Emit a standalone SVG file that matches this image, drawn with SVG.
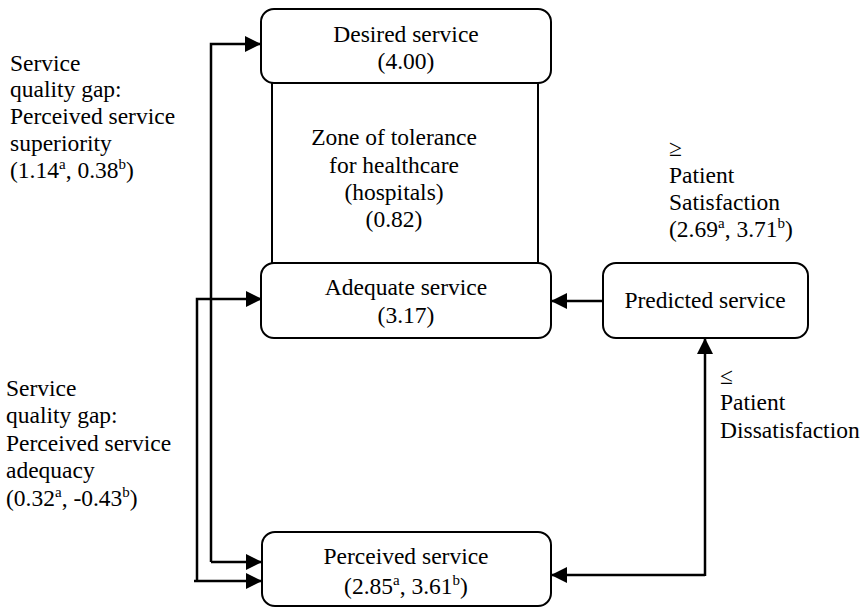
<svg xmlns="http://www.w3.org/2000/svg" width="866" height="607" viewBox="0 0 866 607">
<defs>
<style>
text{font-family:"Liberation Serif","Times New Roman",serif;font-size:23.5px;fill:#000}
.c{text-anchor:middle}
.box{fill:#fff;stroke:#000;stroke-width:2}
.ln{fill:none;stroke:#000;stroke-width:2.5}
.sup{font-size:15px}
</style>
<marker id="ah" markerWidth="16" markerHeight="16" viewBox="0 0 16 16" refX="15" refY="8" orient="auto" markerUnits="userSpaceOnUse">
<path d="M0,0 L16,8 L0,16 Z" fill="#000"/>
</marker>
</defs>
<g id="zone">
<rect x="272" y="80" width="266" height="186" fill="#fff" stroke="#000" stroke-width="2"/>
<text class="c" x="394" y="145">Zone of tolerance</text>
<text class="c" x="394" y="173">for healthcare</text>
<text class="c" x="394" y="200">(hospitals)</text>
<text class="c" x="394" y="227">(0.82)</text>
</g>
<g id="connectors">
<path class="ln" d="M211,562 L211,44 L260,44" marker-end="url(#ah)"/>
<path class="ln" d="M211,562 L261,562" marker-end="url(#ah)"/>
<path class="ln" d="M197,581 L197,299 L261,299" marker-end="url(#ah)"/>
<path class="ln" d="M194,581 L261,581" marker-end="url(#ah)"/>
<path class="ln" d="M603,301 L552,301" marker-end="url(#ah)"/>
<path class="ln" d="M705,575 L552,575" marker-end="url(#ah)"/>
<path class="ln" d="M705,576 L705,339" marker-end="url(#ah)"/>
</g>
<g id="desired">
<rect class="box" x="261" y="9" width="290" height="74" rx="13"/>
<text class="c" x="406" y="42">Desired service</text>
<text class="c" x="406" y="69">(4.00)</text>
</g>
<g id="adequate">
<rect class="box" x="261" y="263" width="290" height="75" rx="13"/>
<text class="c" x="406" y="295">Adequate service</text>
<text class="c" x="406" y="323">(3.17)</text>
</g>
<g id="perceived">
<rect class="box" x="262" y="532" width="289" height="74" rx="13"/>
<text class="c" x="406" y="564">Perceived service</text>
<text class="c" x="406" y="594">(2.85<tspan class="sup" dy="-9">a</tspan><tspan dy="9">, 3.61</tspan><tspan class="sup" dy="-9">b</tspan><tspan dy="9">)</tspan></text>
</g>
<g id="predicted">
<rect class="box" x="603" y="263" width="205" height="75" rx="13"/>
<text class="c" x="705" y="308">Predicted service</text>
</g>
<g id="label-superiority">
<text x="10" y="71">Service</text>
<text x="10" y="97">quality gap:</text>
<text x="10" y="124">Perceived service</text>
<text x="10" y="151">superiority</text>
<text x="10" y="178">(1.14<tspan class="sup" dy="-9">a</tspan><tspan dy="9">, 0.38</tspan><tspan class="sup" dy="-9">b</tspan><tspan dy="9">)</tspan></text>
</g>
<g id="label-adequacy">
<text x="6" y="396">Service</text>
<text x="6" y="423">quality gap:</text>
<text x="6" y="451">Perceived service</text>
<text x="6" y="478">adequacy</text>
<text x="6" y="506">(0.32<tspan class="sup" dy="-9">a</tspan><tspan dy="9">, -0.43</tspan><tspan class="sup" dy="-9">b</tspan><tspan dy="9">)</tspan></text>
</g>
<g id="label-satisfaction">
<text x="669" y="156">≥</text>
<text x="669" y="183">Patient</text>
<text x="669" y="210">Satisfaction</text>
<text x="669" y="237">(2.69<tspan class="sup" dy="-9">a</tspan><tspan dy="9">, 3.71</tspan><tspan class="sup" dy="-9">b</tspan><tspan dy="9">)</tspan></text>
</g>
<g id="label-dissatisfaction">
<text x="720" y="384">≤</text>
<text x="720" y="410">Patient</text>
<text x="720" y="438">Dissatisfaction</text>
</g>
</svg>
